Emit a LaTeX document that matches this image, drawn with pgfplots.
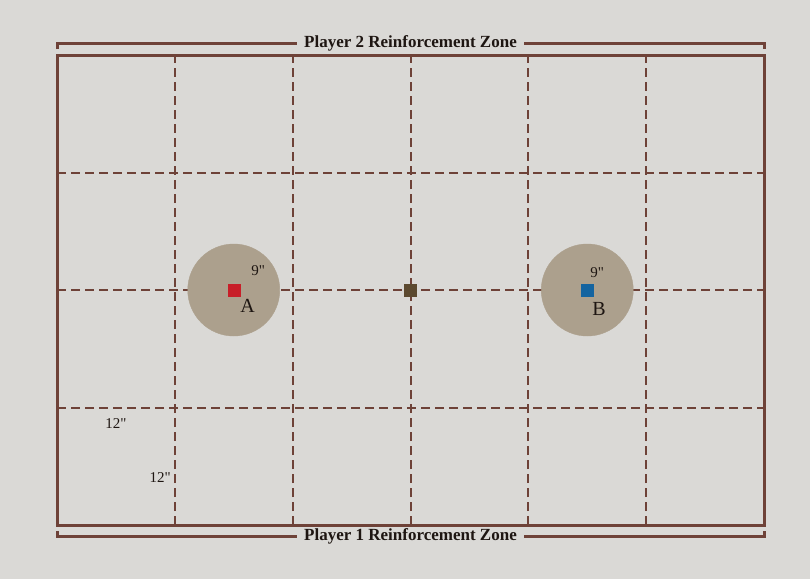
\documentclass[border=0pt]{standalone}
\usepackage{fontspec}
\setmainfont{Liberation Serif}
\usepackage{pgfplots}
\pgfplotsset{compat=1.18}
\definecolor{bg}{RGB}{218,217,214}
\definecolor{frame}{RGB}{110,66,56}
\definecolor{tan}{RGB}{172,160,141}
\definecolor{objred}{RGB}{200,30,40}
\definecolor{objblue}{RGB}{20,100,160}
\definecolor{objmid}{RGB}{92,74,48}
\definecolor{txt}{RGB}{30,22,18}
\begin{document}
\begin{tikzpicture}
\fill[bg] (-57pt,-54pt) rectangle (753pt,525pt);
\begin{axis}[at={(0,0)}, anchor=south west, scale only axis,
  width=707pt, height=470pt, xmin=0, xmax=72, ymin=0, ymax=48,
  hide axis, clip=false, set layers=standard]
% objective zones
\addplot[only marks, mark=*, mark size=46pt, color=tan]
  coordinates {(18,24) (54,24)};
% dashed grid
\addplot[frame, line width=2pt, dash pattern=on 9pt off 5pt, unbounded coords=jump, mark=none]
  coordinates {(12,0) (12,48) (nan,nan) (24,0) (24,48) (nan,nan) (36,0) (36,48) (nan,nan)
  (48,0) (48,48) (nan,nan) (60,0) (60,48) (nan,nan)
  (0,12) (72,12) (nan,nan) (0,24) (72,24) (nan,nan) (0,36) (72,36)};
% board frame
\addplot[frame, line width=3pt, mark=none] coordinates {(0,0) (72,0) (72,48) (0,48)} -- cycle;
% reinforcement brackets
\addplot[frame, line width=3pt, mark=none] coordinates {(0,48.6) (0,49.15) (72,49.15) (72,48.6)};
\addplot[frame, line width=3pt, mark=none] coordinates {(0,-0.6) (0,-1.2) (72,-1.2) (72,-0.6)};
% objective markers
\addplot[only marks, mark=square*, mark size=6pt, color=objred] coordinates {(18,24)};
\addplot[only marks, mark=square*, mark size=6pt, color=objblue] coordinates {(54,24)};
\addplot[only marks, mark=square*, mark size=6pt, color=objmid] coordinates {(36,24)};
% labels
\begin{pgfonlayer}{axis foreground}
\node[fill=bg, inner xsep=7pt, inner ysep=1pt, text=txt, font=\bfseries\fontsize{17}{19}\selectfont] at (axis cs:36,49.15) {Player 2 Reinforcement Zone};
\node[fill=bg, inner xsep=7pt, inner ysep=1pt, text=txt, font=\bfseries\fontsize{17}{19}\selectfont] at (axis cs:36,-1.2) {Player 1 Reinforcement Zone};
\node[text=txt, font=\fontsize{15}{17}\selectfont] at (axis cs:20.5,26.0) {9\textquotedbl};
\node[text=txt, font=\fontsize{20}{22}\selectfont] at (axis cs:19.4,22.4) {A};
\node[text=txt, font=\fontsize{15}{17}\selectfont] at (axis cs:55.0,25.8) {9\textquotedbl};
\node[text=txt, font=\fontsize{20}{22}\selectfont] at (axis cs:55.2,22.1) {B};
\node[text=txt, font=\fontsize{15}{17}\selectfont] at (axis cs:6.0,10.4) {12\textquotedbl};
\node[text=txt, font=\fontsize{15}{17}\selectfont] at (axis cs:10.5,4.8) {12\textquotedbl};
\end{pgfonlayer}
\end{axis}
\end{tikzpicture}
\end{document}
